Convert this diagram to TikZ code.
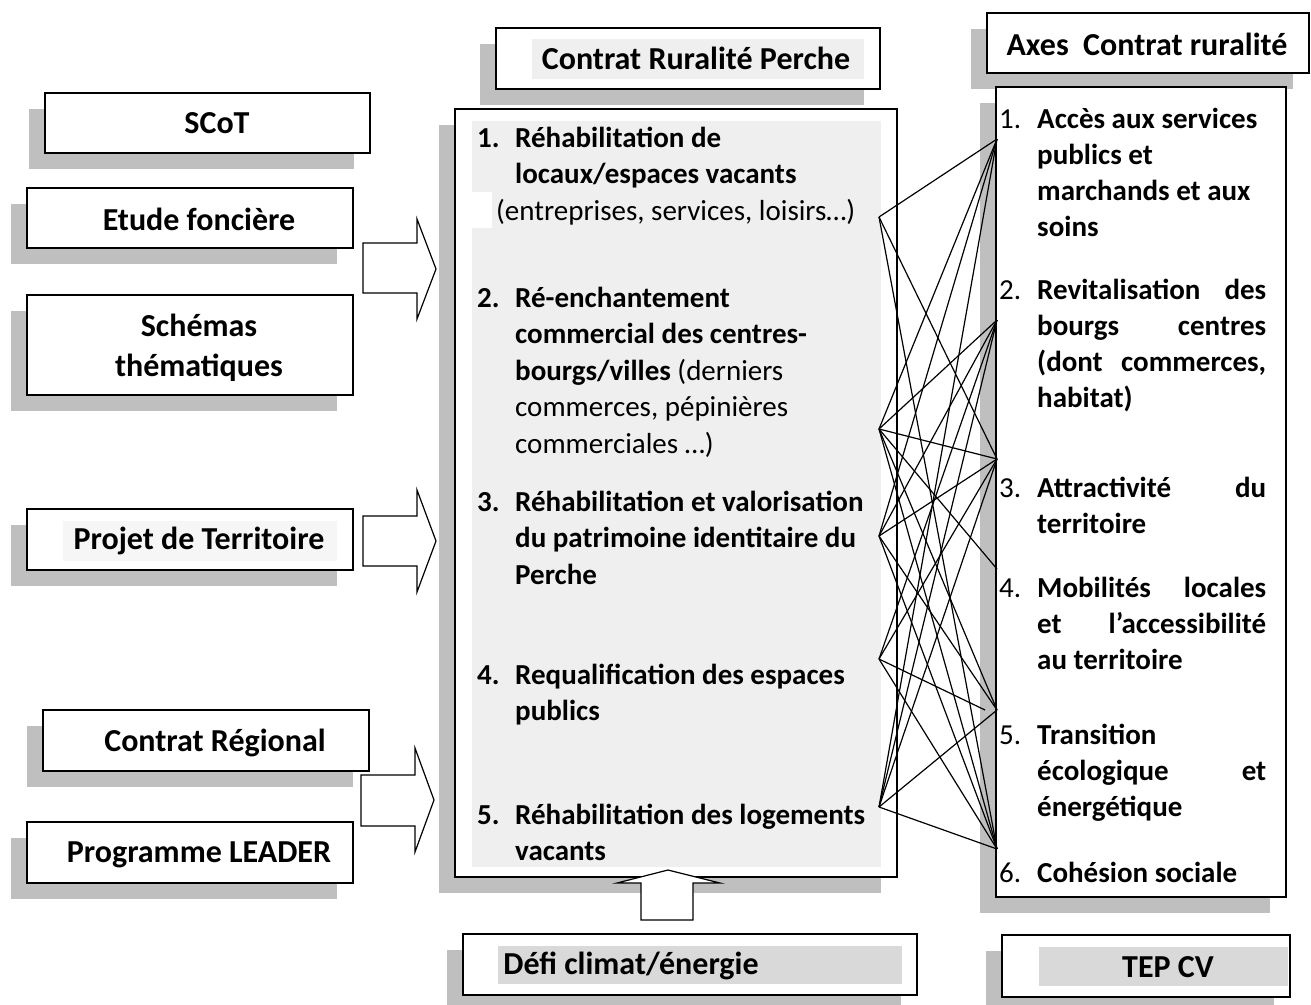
\documentclass[tikz,border=0pt]{standalone}
\usepackage{fontspec}
\setmainfont{Carlito}
\usetikzlibrary{shadows}

\definecolor{shadowgray}{RGB}{191,191,191}
\definecolor{panelgray}{RGB}{239,239,239}
\definecolor{markgray}{RGB}{217,217,217}
\definecolor{softgray}{RGB}{246,246,246}

% one justified line of the right column
\newcommand{\axeline}[1]{\makebox[229pt][s]{#1}}

\begin{document}
\begin{tikzpicture}[x=1pt,y=-1pt,
  box/.style={draw,line width=1.5pt,fill=white,inner sep=0pt,
    drop shadow={shadow xshift=-16pt,shadow yshift=-16pt,
      fill=shadowgray,opacity=1}},
  ttl/.style={font=\bfseries\fontsize{32}{40}\selectfont,inner sep=0pt,align=center},
  item/.style={font=\bfseries\fontsize{29}{36.5}\selectfont,inner sep=0pt,
    align=left,anchor=north west},
  axe/.style={font=\bfseries\fontsize{29}{36}\selectfont,inner sep=0pt,
    align=left,anchor=north west},
  num/.style={font=\fontsize{29}{36}\selectfont,inner sep=0pt,anchor=north west},
  bigarrow/.style={draw,line width=1.2pt,fill=white,line join=miter},
  link/.style={line width=1.2pt}
  ]
  \useasboundingbox (0,0) rectangle (1311,1004);

  % left column
  \node[box,minimum width=325,minimum height=60] (scotbox) at (207.5,123) {};
  \node[box,minimum width=326,minimum height=60] (etudebox) at (190,218) {};
  \node[box,minimum width=326,minimum height=100] (schemabox) at (190,345) {};
  \node[box,minimum width=326,minimum height=61] (projetbox) at (190,539.5) {};
  \node[box,minimum width=326,minimum height=61] (regionbox) at (206,740.5) {};
  \node[box,minimum width=326,minimum height=61] (leaderbox) at (190,852.5) {};
  \fill[softgray] (63,521) rectangle (337,561);

  \node[ttl] (scot) at (217,123) {SCoT};
  \node[ttl] (etude) at (199,219) {Etude foncière};
  \node[ttl] (schema) at (199,348) {Schémas\\thématiques};
  \node[ttl] (projet) at (199,541) {Projet de Territoire};
  \node[ttl] (region) at (215,743) {Contrat Régional};
  \node[ttl] (leader) at (199,855) {Programme LEADER};

  % middle column
  \node[box,minimum width=384,minimum height=61] (crpbox) at (688,58.5) {};
  \node[box,minimum width=442,minimum height=768] (actbox) at (676,493) {};
  \fill[panelgray] (532,39) rectangle (864,79);
  \fill[panelgray] (472,121) rectangle (881,867);
  \fill[white] (472,192) rectangle (492,228);
  \node[ttl] (crp) at (696,58) {Contrat Ruralité Perche};

  \node[item] (m1n) at (477,121.5) {\strut 1.};
  \node[item] (m1) at (515,121.5) {\strut Réhabilitation de\\
    locaux/espaces vacants\\
    \hspace*{-19pt}\textmd{(entreprises, services, loisirs…)}};
  \node[item] (m2n) at (477,281.5) {\strut 2.};
  \node[item] (m2) at (515,281.5) {\strut Ré-enchantement\\
    commercial des centres-\\
    bourgs/villes \textmd{(derniers}\\
    \textmd{commerces, pépinières}\\
    \textmd{commerciales …)}};
  \node[item] (m3n) at (477,485.5) {\strut 3.};
  \node[item] (m3) at (515,485.5) {\strut Réhabilitation et valorisation\\
    du patrimoine identitaire du\\ Perche};
  \node[item] (m4n) at (477,658.5) {\strut 4.};
  \node[item] (m4) at (515,658.5) {\strut Requalification des espaces\\ publics};
  \node[item] (m5n) at (477,798.5) {\strut 5.};
  \node[item] (m5) at (515,798.5) {\strut Réhabilitation des logements\\ vacants};

  \node[box,minimum width=454,minimum height=61] (defibox) at (690,964.5) {};
  \fill[markgray] (498,946) rectangle (902,984);
  \node[ttl] (defi) at (631,966) {Défi climat/énergie};

  % right column
  \node[box,minimum width=322,minimum height=60] (axesbox) at (1148,43) {};
  \node[box,minimum width=290,minimum height=810] (axebox) at (1141,492) {};
  \node[ttl] (axes) at (1147,44) {Axes\ \ Contrat ruralité};

  \node[num] (a1n) at (999,102.8) {\strut 1.};
  \node[axe] (a1t) at (1037,102.8) {\strut Accès aux services\\ publics et\\
    marchands et aux\\ soins};
  \node[num] (a2n) at (999,273.8) {\strut 2.};
  \node[axe] (a2t) at (1037,273.8) {\strut\axeline{Revitalisation des}\\
    \axeline{bourgs centres}\\ \axeline{(dont commerces,}\\ habitat)};
  \node[num] (a3n) at (999,471.8) {\strut 3.};
  \node[axe] (a3t) at (1037,471.8) {\strut\axeline{Attractivité du}\\ territoire};
  \node[num] (a4n) at (999,571.8) {\strut 4.};
  \node[axe] (a4t) at (1037,571.8) {\strut\axeline{Mobilités locales}\\
    \axeline{et l’accessibilité}\\ au territoire};
  \node[num] (a5n) at (999,718.8) {\strut 5.};
  \node[axe] (a5t) at (1037,718.8) {\strut Transition\\
    \axeline{écologique et}\\ énergétique};
  \node[num] (a6n) at (999,856.8) {\strut 6.};
  \node[axe] (a6t) at (1037,856.8) {\strut Cohésion sociale};

  \node[box,minimum width=288,minimum height=62] (tepbox) at (1146,966) {};
  \fill[markgray] (1039,947) rectangle (1288,986);
  \node[ttl] (tep) at (1168,967) {TEP CV};

  % block arrows
  \draw[bigarrow] (363,243) -- (417,243) -- (417,219) -- (436,269)
    -- (417,319) -- (417,293) -- (363,293) -- cycle;
  \draw[bigarrow] (363,516) -- (417,516) -- (417,490) -- (436,541)
    -- (417,592) -- (417,566) -- (363,566) -- cycle;
  \draw[bigarrow] (361,775) -- (415,775) -- (415,748) -- (434,800)
    -- (415,852) -- (415,826) -- (361,826) -- cycle;
  \draw[bigarrow] (641,920) -- (641,883) -- (617,883) -- (668,870)
    -- (720,883) -- (693,883) -- (693,920) -- cycle;

  % links between actions and axes
  \coordinate (p1) at (879,217);
  \coordinate (p2) at (879,429);
  \coordinate (p3) at (879,536);
  \coordinate (p4) at (879,659);
  \coordinate (p5) at (879,807);
  \coordinate (q1) at (997,139);
  \coordinate (q2) at (997,320);
  \coordinate (q3) at (997,459);
  \coordinate (q4) at (997,569);
  \coordinate (q5) at (997,710);
  \coordinate (q5s) at (985,710);
  \coordinate (q6) at (997,849);

  \path[link,draw]
  (p1) edge (q1)  (p1) edge (q3)  (p1) edge (q6)
  (p2) edge (q1)  (p2) edge (q2)  (p2) edge (q3)
  (p2) edge (q4)  (p2) edge (q5)  (p2) edge (q6)
  (p3) edge (q1)  (p3) edge (q2)  (p3) edge (q3)
  (p3) edge (q5)  (p3) edge (q6)
  (p4) edge (q2)  (p4) edge (q3)  (p4) edge (q5s) (p4) edge (q6)
  (p5) edge (q1)  (p5) edge (q2)  (p5) edge (q3)
  (p5) edge (q5)  (p5) edge (q6)
  ;
\end{tikzpicture}
\end{document}
